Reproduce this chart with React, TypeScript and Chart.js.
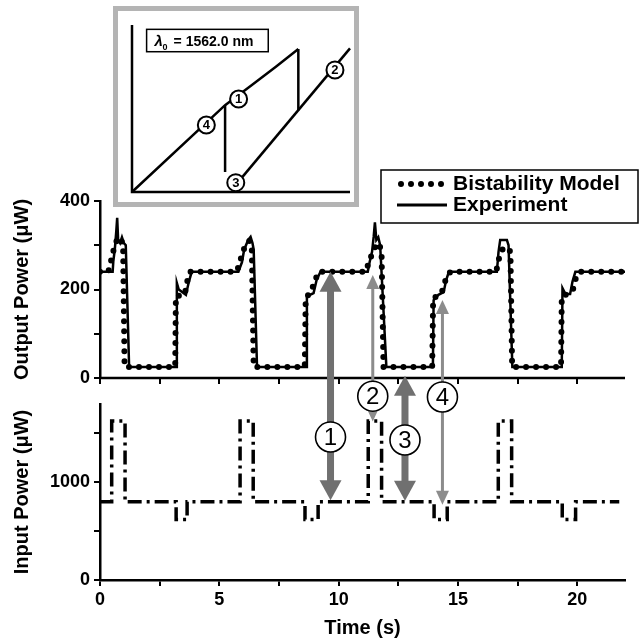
import React, { useEffect, useRef } from 'react';
import { Chart, registerables } from 'chart.js';

Chart.register(...registerables);

const FONT = '"Liberation Sans", Arial, Helvetica, sans-serif';

// ---- Axis ticks ----
const timeTicks = [0, 2.5, 5, 7.5, 10, 12.5, 15, 17.5, 20];
const timeTickLabels = ['0', '', '5', '', '10', '', '15', '', '20'];
const outputTicks = [0, 100, 200, 300, 400];
const outputTickLabels = ['0', '', '200', '', '400'];
const inputTicks = [0, 500, 1000, 1500];
const inputTickLabels = ['0', '', '1000', ''];

// ---- Top panel: output power (µW) vs time (s) ----
const expTime = [0, 0.53, 0.56, 0.62, 0.68, 0.72, 0.76, 0.84, 0.92, 1.0, 1.08, 1.22, 3.19, 3.22, 3.3, 3.6, 3.7, 3.84, 5.8, 5.95, 6.04, 6.21, 6.31, 6.39, 6.44, 6.58, 8.64, 8.67, 8.8, 8.95, 9.08, 9.24, 11.22, 11.3, 11.4, 11.47, 11.52, 11.58, 11.66, 11.74, 12.0, 13.95, 13.98, 14.18, 14.4, 14.5, 14.62, 16.63, 16.7, 16.77, 17.05, 17.12, 17.28, 19.35, 19.38, 19.5, 19.7, 19.8, 19.92, 22];
const expPower = [240, 240, 265, 290, 330, 362, 312, 305, 318, 305, 300, 25, 25, 215, 200, 188, 212, 240, 240, 262, 290, 312, 319, 305, 290, 25, 25, 183, 188, 192, 222, 240, 240, 262, 285, 320, 352, 312, 318, 300, 25, 25, 176, 188, 194, 220, 240, 240, 285, 312, 312, 300, 25, 25, 203, 190, 190, 218, 240, 240];

const modelTime = [0, 0.35, 0.45, 0.55, 0.65, 0.78, 0.9, 0.97, 1.03, 3.15, 3.18, 3.55, 3.68, 3.78, 5.72, 5.85, 5.97, 6.12, 6.25, 6.36, 6.44, 8.58, 8.62, 8.82, 9.0, 9.15, 11.15, 11.25, 11.42, 11.6, 11.72, 11.8, 11.88, 13.92, 13.96, 14.3, 14.52, 14.68, 16.6, 16.72, 16.85, 17.05, 17.2, 17.27, 19.32, 19.35, 19.62, 19.82, 19.97, 20.1, 22];
const modelPower = [240, 240, 262, 285, 305, 318, 312, 290, 25, 25, 185, 188, 225, 240, 240, 258, 285, 300, 310, 295, 25, 25, 182, 192, 218, 240, 240, 260, 283, 305, 300, 280, 25, 25, 180, 190, 228, 240, 240, 270, 290, 296, 285, 25, 25, 185, 190, 200, 232, 240, 240];

// ---- Bottom panel: input power (µW) vs time (s) ----
const inputTime = [0, 0.49, 0.49, 1.05, 1.05, 3.19, 3.19, 3.65, 3.65, 5.87, 5.87, 6.42, 6.42, 8.59, 8.59, 9.14, 9.14, 11.24, 11.24, 11.8, 11.8, 14.0, 14.0, 14.55, 14.55, 16.69, 16.69, 17.25, 17.25, 19.37, 19.37, 19.93, 19.93, 21.76];
const inputPower = [800, 800, 1625, 1625, 800, 800, 620, 620, 800, 800, 1625, 1625, 800, 800, 620, 620, 800, 800, 1625, 1625, 800, 800, 620, 620, 800, 800, 1625, 1625, 800, 800, 620, 620, 800, 800];

// ---- Arrow annotations (time, output-scale tip, input-scale tip, input-scale label centre) ----
const arrowTime = [9.66, 11.43, 12.78, 14.35];
const arrowTopValue = [240, 233, 5, 176];
const arrowBottomValue = [815, 1620, 810, 770];
const arrowLabelValue = [1462, 1880, 1432, 1872];
const arrowLabel = ['1', '2', '3', '4'];
const arrowThick = [true, false, true, false];

// ---- Inset: hysteresis schematic (arbitrary units 0..100) ----
const insetAxisX = [0, 0, 100];
const insetAxisY = [100, 0, 0];
const insetUpperX = [0, 42.7, 55, 66, 76.3];
const insetUpperY = [0, 52, 64, 75, 85.6];
const insetJumpX = [76.3, 76.3];
const insetJumpY = [85.6, 49];
const insetDropX = [42.7, 42.7];
const insetDropY = [52, 12];
const insetLowerX = [50, 100];
const insetLowerY = [8, 86];
const insetMarkX = [48.9, 93.1, 47.6, 34.1];
const insetMarkY = [55.7, 73.1, 5.6, 40.1];
const insetMarkLabel = ['1', '2', '3', '4'];

const zip = (xs: number[], ys: number[]) => xs.map((x, i) => ({ x, y: ys[i] }));
const setTicks = (values: number[]) => (s: any) => {
  s.ticks = values.map((value) => ({ value }));
};
const labelFor = (values: number[], labels: string[]) => (v: any) => {
  const i = values.findIndex((t) => Math.abs(t - Number(v)) < 1e-6);
  return i >= 0 ? labels[i] : '';
};

const overlayPlugin = {
  id: 'overlay',
  beforeDatasetsDraw(chart: any) {
    const { ctx, chartArea, scales } = chart;
    const y0 = scales.yTop.getPixelForValue(0);
    ctx.save();
    ctx.strokeStyle = '#000';
    ctx.lineWidth = 2.5;
    ctx.beginPath();
    ctx.moveTo(chartArea.left - 1, y0);
    ctx.lineTo(chartArea.right, y0);
    ctx.stroke();
    ctx.lineWidth = 2;
    ctx.beginPath();
    for (const t of scales.x.ticks) {
      const px = Math.round(scales.x.getPixelForValue(t.value));
      ctx.moveTo(px, y0);
      ctx.lineTo(px, y0 + 6);
    }
    ctx.stroke();
    ctx.restore();
  },
  afterDraw(chart: any) {
    const { ctx, scales } = chart;
    ctx.save();
    arrowTime.forEach((t, i) => {
      const x = scales.x.getPixelForValue(t);
      const yT = scales.yTop.getPixelForValue(arrowTopValue[i]);
      const yB = scales.yBot.getPixelForValue(arrowBottomValue[i]);
      const thick = arrowThick[i];
      const shaft = thick ? 7 : 3;
      const hw = thick ? 11 : 6.5;
      const hl = thick ? 20 : 14;
      ctx.fillStyle = thick ? '#707070' : '#8c8c8c';
      ctx.fillRect(x - shaft / 2, yT + hl - 1, shaft, yB - yT - 2 * hl + 2);
      ctx.beginPath();
      ctx.moveTo(x, yT);
      ctx.lineTo(x - hw, yT + hl);
      ctx.lineTo(x + hw, yT + hl);
      ctx.closePath();
      ctx.fill();
      ctx.beginPath();
      ctx.moveTo(x, yB);
      ctx.lineTo(x - hw, yB - hl);
      ctx.lineTo(x + hw, yB - hl);
      ctx.closePath();
      ctx.fill();
    });
    arrowTime.forEach((t, i) => {
      const x = scales.x.getPixelForValue(t);
      const y = scales.yBot.getPixelForValue(arrowLabelValue[i]);
      ctx.beginPath();
      ctx.arc(x, y, 15, 0, Math.PI * 2);
      ctx.fillStyle = '#fff';
      ctx.fill();
      ctx.lineWidth = 1.6;
      ctx.strokeStyle = '#000';
      ctx.stroke();
      ctx.fillStyle = '#000';
      ctx.font = `24px ${FONT}`;
      ctx.textAlign = 'center';
      ctx.textBaseline = 'middle';
      ctx.fillText(arrowLabel[i], x, y + 1);
    });
    const ds = chart.data.datasets;
    ctx.lineWidth = 1.5;
    ctx.strokeStyle = '#000';
    ctx.setLineDash([]);
    ctx.strokeRect(381, 170, 257, 53);
    ctx.font = `bold 21px ${FONT}`;
    ctx.textAlign = 'left';
    ctx.textBaseline = 'middle';
    ctx.fillStyle = '#000';
    ctx.save();
    ctx.setLineDash([0, 10]);
    ctx.lineCap = 'round';
    ctx.lineWidth = 6;
    ctx.beginPath();
    ctx.moveTo(401, 184);
    ctx.lineTo(447, 184);
    ctx.stroke();
    ctx.restore();
    ctx.fillText(ds[0].label, 453, 184);
    ctx.lineWidth = 3;
    ctx.beginPath();
    ctx.moveTo(397, 205);
    ctx.lineTo(447, 205);
    ctx.stroke();
    ctx.fillText(ds[1].label, 453, 205);
    ctx.restore();
  },
};

const insetPlugin = {
  id: 'insetMarks',
  afterDraw(chart: any) {
    const { ctx, scales } = chart;
    const sx = scales.x;
    const sy = scales.y;
    ctx.save();
    insetMarkX.forEach((mx, i) => {
      const x = sx.getPixelForValue(mx);
      const y = sy.getPixelForValue(insetMarkY[i]);
      ctx.beginPath();
      ctx.arc(x, y, 8.5, 0, Math.PI * 2);
      ctx.fillStyle = '#fff';
      ctx.fill();
      ctx.lineWidth = 2;
      ctx.strokeStyle = '#000';
      ctx.stroke();
      ctx.fillStyle = '#000';
      ctx.font = `bold 13px ${FONT}`;
      ctx.textAlign = 'center';
      ctx.textBaseline = 'middle';
      ctx.fillText(insetMarkLabel[i], x, y + 0.5);
    });
    const bx0 = sx.getPixelForValue(6.7);
    const bx1 = sx.getPixelForValue(62.5);
    const by0 = sy.getPixelForValue(97.4);
    const by1 = sy.getPixelForValue(84);
    ctx.lineWidth = 1.5;
    ctx.strokeStyle = '#000';
    ctx.strokeRect(bx0, by0, bx1 - bx0, by1 - by0);
    const cy = (by0 + by1) / 2;
    ctx.fillStyle = '#000';
    ctx.textAlign = 'left';
    ctx.textBaseline = 'alphabetic';
    ctx.font = `bold italic 15px ${FONT}`;
    const lx = bx0 + 8;
    ctx.fillText('λ', lx, cy + 5);
    ctx.font = `bold 9px ${FONT}`;
    ctx.fillText('0', lx + 8, cy + 9);
    ctx.font = `bold 14px ${FONT}`;
    ctx.fillText('= 1562.0 nm', lx + 19, cy + 5);
    ctx.restore();
  },
};

export default function App() {
  const mainRef = useRef<HTMLCanvasElement>(null);
  const insetRef = useRef<HTMLCanvasElement>(null);

  useEffect(() => {
    document.body.style.margin = '0';
    const tickFont = { family: FONT, size: 18, weight: 'bold' as const };
    const titleFont = { family: FONT, size: 20, weight: 'bold' as const };
    const yGrid = { drawOnChartArea: false, drawTicks: true, tickLength: 6, color: '#000', lineWidth: 2 };
    const axisBorder = { display: true, color: '#000', width: 2.5 };

    const main = new Chart(mainRef.current as HTMLCanvasElement, {
      type: 'line',
      data: {
        datasets: [
          {
            label: 'Bistability Model',
            data: zip(modelTime, modelPower),
            yAxisID: 'yTop',
            borderColor: '#000',
            borderWidth: 6,
            borderDash: [0, 10],
            borderCapStyle: 'round',
            pointRadius: 0,
            tension: 0,
          },
          {
            label: 'Experiment',
            data: zip(expTime, expPower),
            yAxisID: 'yTop',
            borderColor: '#000',
            borderWidth: 2.5,
            pointRadius: 0,
            tension: 0,
          },
          {
            label: 'Input Power',
            data: zip(inputTime, inputPower),
            yAxisID: 'yBot',
            borderColor: '#000',
            borderWidth: 3.5,
            borderDash: [14, 5, 3, 5],
            pointRadius: 0,
            tension: 0,
          },
        ],
      } as any,
      options: {
        animation: false,
        responsive: false,
        maintainAspectRatio: false,
        devicePixelRatio: 1,
        layout: { padding: { top: 201, right: 16, bottom: 0, left: 0 } },
        plugins: { legend: { display: false }, tooltip: { enabled: false } },
        scales: {
          x: {
            type: 'linear',
            position: 'bottom',
            min: 0,
            max: 22,
            afterBuildTicks: setTicks(timeTicks),
            ticks: {
              autoSkip: false,
              maxRotation: 0,
              padding: 3,
              color: '#000',
              font: tickFont,
              callback: labelFor(timeTicks, timeTickLabels),
            },
            grid: yGrid,
            border: axisBorder,
            title: { display: true, text: 'Time (s)', color: '#000', font: titleFont, padding: { top: 0, bottom: 4 } },
            afterFit: (s: any) => {
              s.height = 64;
            },
          },
          yBot: {
            type: 'linear',
            position: 'left',
            stack: 'panels',
            stackWeight: 176,
            weight: 0,
            min: 0,
            max: 1800,
            afterBuildTicks: setTicks(inputTicks),
            ticks: {
              autoSkip: false,
              padding: 4,
              color: '#000',
              font: tickFont,
              callback: labelFor(inputTicks, inputTickLabels),
            },
            grid: yGrid,
            border: axisBorder,
            title: { display: true, text: 'Input Power (μW)', color: '#000', font: titleFont, padding: { top: 10, bottom: 0 } },
            afterFit: (s: any) => {
              s.width = 100;
            },
          },
          yGap: {
            type: 'linear',
            position: 'left',
            stack: 'panels',
            stackWeight: 26,
            weight: 1,
            ticks: { display: false },
            grid: { display: false, drawTicks: false },
            border: { display: false },
            afterFit: (s: any) => {
              s.width = 100;
            },
          },
          yTop: {
            type: 'linear',
            position: 'left',
            stack: 'panels',
            stackWeight: 177,
            weight: 2,
            min: 0,
            max: 400,
            afterBuildTicks: setTicks(outputTicks),
            ticks: {
              autoSkip: false,
              padding: 4,
              color: '#000',
              font: tickFont,
              callback: labelFor(outputTicks, outputTickLabels),
            },
            grid: yGrid,
            border: axisBorder,
            title: { display: true, text: 'Output Power (μW)', color: '#000', font: titleFont, padding: { top: 10, bottom: 0 } },
            afterFit: (s: any) => {
              s.width = 100;
            },
          },
        },
      } as any,
      plugins: [overlayPlugin],
    });

    const lineDs = (xs: number[], ys: number[]) => ({
      data: zip(xs, ys),
      borderColor: '#000',
      borderWidth: 2.5,
      pointRadius: 0,
      tension: 0,
      clip: false,
    });

    const inset = new Chart(insetRef.current as HTMLCanvasElement, {
      type: 'line',
      data: {
        datasets: [
          lineDs(insetAxisX, insetAxisY),
          lineDs(insetUpperX, insetUpperY),
          lineDs(insetJumpX, insetJumpY),
          lineDs(insetDropX, insetDropY),
          lineDs(insetLowerX, insetLowerY),
        ],
      } as any,
      options: {
        animation: false,
        responsive: false,
        maintainAspectRatio: false,
        devicePixelRatio: 1,
        layout: { padding: { left: 14, right: 4, top: 14, bottom: 10 } },
        plugins: { legend: { display: false }, tooltip: { enabled: false } },
        scales: {
          x: { type: 'linear', min: 0, max: 100, display: false },
          y: { type: 'linear', min: 0, max: 100, display: false },
        },
      } as any,
      plugins: [insetPlugin],
    });

    return () => {
      main.destroy();
      inset.destroy();
    };
  }, []);

  return (
    <div style={{ position: 'relative', width: 641, height: 644, overflow: 'hidden', background: '#fff' }}>
      <canvas
        ref={mainRef}
        width={641}
        height={644}
        style={{ position: 'absolute', left: 0, top: 0, display: 'block' }}
      />
      <div
        style={{
          position: 'absolute',
          left: 113,
          top: 6,
          width: 246,
          height: 201,
          boxSizing: 'border-box',
          border: '5px solid #b4b4b4',
          background: '#fff',
        }}
      >
        <canvas ref={insetRef} width={236} height={191} style={{ display: 'block' }} />
      </div>
    </div>
  );
}
